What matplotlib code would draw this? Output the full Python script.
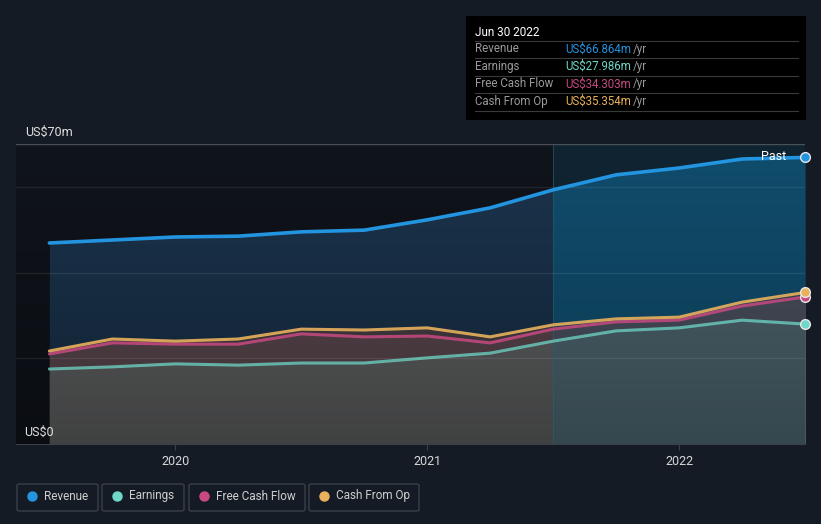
import numpy as np
import matplotlib.pyplot as plt
from matplotlib.patches import FancyBboxPatch, Rectangle

# quarterly points, Jun 2019 .. Jun 2022
quarters = [2019.5, 2019.75, 2020.0, 2020.25, 2020.5, 2020.75, 2021.0,
            2021.25, 2021.5, 2021.75, 2022.0, 2022.25, 2022.5]
revenue = [46.9, 47.6, 48.3, 48.5, 49.5, 49.9, 52.3, 55.1, 59.3, 62.8, 64.4, 66.5, 66.864]
earnings = [17.5, 18.0, 18.7, 18.4, 18.9, 18.9, 20.1, 21.2, 24.0, 26.4, 27.1, 28.9, 27.986]
fcf = [21.0, 23.6, 23.3, 23.3, 25.7, 25.0, 25.2, 23.6, 26.8, 28.5, 28.9, 32.2, 34.303]
cfo = [21.7, 24.5, 24.0, 24.5, 26.8, 26.6, 27.1, 25.0, 27.8, 29.2, 29.6, 33.1, 35.354]
year_ticks = [2020, 2021, 2022]
past_start = 2021.5

c_rev = '#2394df'
c_earn = '#6fd8c8'
c_fcf = '#c94a82'
c_cfo = '#e9b15c'
bg = '#151b25'

plt.rcParams['font.family'] = ['Roboto', 'DejaVu Sans']

fig = plt.figure(figsize=(8.21, 5.24), dpi=100)
fig.patch.set_facecolor(bg)
ax = fig.add_axes([16/821, 80/524, 789/821, 300/524])
ax.set_facecolor('#10141b')

x0 = 2020 - 160/253
x1 = quarters[-1]
ax.set_xlim(x0, x1)
ax.set_ylim(0, 70)

q = np.array(quarters)
past = q >= past_start
ax.fill_between(q, 0, revenue, color='#1d3a56', alpha=0.85, lw=0, zorder=1)
# past part of the revenue area is more teal
ax.fill_between(q[past], 0, np.array(revenue)[past], color='#0a5a80', alpha=0.55, lw=0, zorder=1.5)
ax.fill_between(q, 0, cfo, color='#4a4249', lw=0, zorder=2)
ax.fill_between(q, 0, fcf, color='#5e4a52', lw=0, zorder=2)
ax.fill_between(q, 0, earnings, color='#636465', lw=0, zorder=2)

# darkening gradient towards the bottom
grad = np.linspace(0, 1, 256).reshape(-1, 1)
rgba = np.zeros((256, 1, 4))
rgba[..., 3] = (1 - grad) * 0.35
ax.imshow(rgba, extent=[x0, x1, 0, 70], aspect='auto', origin='lower', zorder=3)

# past region highlight
ax.axvspan(past_start, x1, color='#0f5f80', alpha=0.22, lw=0, zorder=4)
ax.axvline(past_start, color='#2a5f78', lw=0.8, alpha=0.6, zorder=4)

for yv in [20, 40, 60]:
    ax.axhline(yv, color='#ffffff', alpha=0.08, lw=1, zorder=4)
ax.axhline(70, color='#4a4f58', lw=1, zorder=4)

ax.plot(q, earnings, color=c_earn, lw=2.2, alpha=0.75, zorder=5, solid_capstyle='round')
ax.plot(q, fcf, color=c_fcf, lw=2.2, alpha=0.85, zorder=6, solid_capstyle='round')
ax.plot(q, cfo, color=c_cfo, lw=2.2, alpha=0.9, zorder=7, solid_capstyle='round')
ax.plot(q, revenue, color=c_rev, lw=2.6, zorder=8, solid_capstyle='round')

for s, c in [(earnings, c_earn), (fcf, c_fcf), (cfo, c_cfo), (revenue, c_rev)]:
    ax.plot([q[-1]], [s[-1]], 'o', ms=7, mfc=c, mec='#e8e8e8', mew=1, zorder=10, clip_on=False)

ax.text(2022.5 - 0.075, 67.0, 'Past', color='white', fontsize=9, ha='right', va='center', zorder=11)

for side in ['top', 'right', 'left']:
    ax.spines[side].set_visible(False)
ax.spines['bottom'].set_color('#3a3f48')
ax.set_yticks([])
ax.set_xticks(year_ticks)
ax.set_xticklabels([str(y) for y in year_ticks])
ax.tick_params(axis='x', colors='#3a3f48', labelcolor='#d8d8d8', labelsize=9, length=4, pad=4)

fig.text(25/821, 1 - 132/524, 'US$70m', color='#e0e0e0', fontsize=9, va='center')
fig.text(24/821, 1 - 432/524, 'US$0', color='#e0e0e0', fontsize=9, va='center', zorder=20)

# tooltip box
tx, ty, tw, th = 466, 16, 340, 104
fig.patches.append(Rectangle((tx/821, 1 - (ty+th)/524), tw/821, th/524,
                             transform=fig.transFigure, facecolor='black', edgecolor='none', zorder=30))
fig.text(475/821, 1 - 32/524, 'Jun 30 2022', color='white', fontsize=8.5, va='center', zorder=31)
rows = [('Revenue', 'US$66.864m', c_rev), ('Earnings', 'US$27.986m', c_earn),
        ('Free Cash Flow', 'US$34.303m', c_fcf), ('Cash From Op', 'US$35.354m', c_cfo)]
for i, (lab, val, c) in enumerate(rows):
    yy = 49 + i * 17.5
    fig.add_artist(plt.Line2D([475/821, 798/821], [1 - (yy - 8.5)/524] * 2,
                              transform=fig.transFigure, color='#3a3a3a', lw=0.8, zorder=31))
    fig.text(475/821, 1 - yy/524, lab, color='#9a9a9a', fontsize=8.3, va='center', zorder=31)
    fig.text(565/821, 1 - yy/524, val, color=c, fontsize=8.3, va='center', zorder=31)
    fig.text(633/821, 1 - yy/524, '/yr', color='#9a9a9a', fontsize=8.3, va='center', zorder=31)
fig.add_artist(plt.Line2D([475/821, 798/821], [1 - 111/524] * 2,
                          transform=fig.transFigure, color='#3a3a3a', lw=0.8, zorder=31))

# legend
items = [('Revenue', c_rev, 17, 81), ('Earnings', c_earn, 102, 82),
         ('Free Cash Flow', c_fcf, 189, 116), ('Cash From Op', c_cfo, 309, 110)]
for lab, c, bx, bw in items:
    fig.patches.append(FancyBboxPatch((bx/821, 1 - 511/524), bw/821, 27/524,
                                      boxstyle='round,pad=0,rounding_size=0.003',
                                      transform=fig.transFigure, facecolor='none',
                                      edgecolor='#3a3f48', lw=1))
    fig.add_artist(plt.Line2D([(bx + 15)/821], [1 - 496/524], marker='o', ms=6.5,
                              color=c, transform=fig.transFigure))
    fig.text((bx + 27)/821, 1 - 496/524, lab, color='#cfcfcf', fontsize=8.5, va='center')

fig.savefig('out.png', dpi=100, facecolor=bg)
